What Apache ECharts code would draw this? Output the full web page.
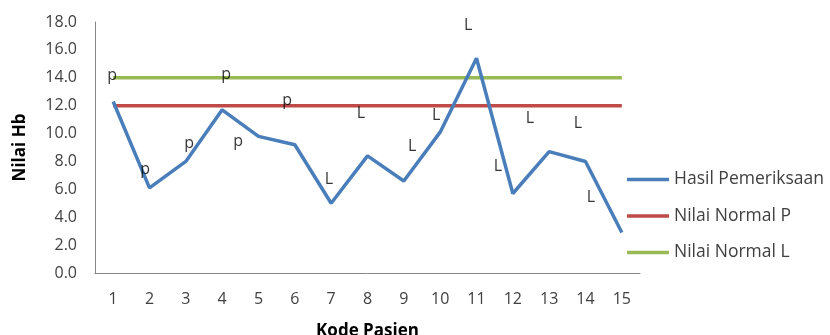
<!DOCTYPE html>
<html><head><meta charset="utf-8">
<script src="https://cdn.jsdelivr.net/npm/echarts@6/dist/echarts.min.js"></script>
<style>html,body{margin:0;padding:0;background:#fff}#c{width:830px;height:335px}</style>
</head><body><div id="c"></div>
<script>
var categories = ['1','2','3','4','5','6','7','8','9','10','11','12','13','14','15'];
var hasil = [12.3, 6.1, 8.0, 11.7, 9.8, 9.2, 5.0, 8.4, 6.6, 10.1, 15.4, 5.7, 8.7, 8.0, 2.9];
var normalP = [12,12,12,12,12,12,12,12,12,12,12,12,12,12,12];
var normalL = [14,14,14,14,14,14,14,14,14,14,14,14,14,14,14];
var yTicks = {min: 0, max: 18, interval: 2};
// annotation labels: text, position in category units, value
var annText = ['p','p','p','p','p','p','L','L','L','L','L','L','L','L','L'];
var annX = [0.97, 1.88, 3.09, 4.11, 4.44, 5.79, 6.94, 7.82, 9.23, 9.89, 10.77, 11.59, 12.47, 13.79, 14.15];
var annY = [14.2, 7.45, 9.3, 14.25, 9.4, 12.4, 6.72, 11.47, 9.09, 11.33, 17.73, 7.65, 11.11, 10.75, 5.42];

var font = 'Open Sans';
var annData = annX.map(function(x, i){ return [x, annY[i], annText[i]]; });
var chart = echarts.init(document.getElementById('c'), null, {renderer:'canvas'});
chart.setOption({
  animation: false,
  grid: {left: 95, right: 190, top: 22, bottom: 62, containLabel: false, outerBoundsMode: 'none'},
  legend: {
    data: ['Hasil Pemeriksaan','Nilai Normal P','Nilai Normal L'],
    orient: 'vertical', left: 627, top: 170,
    icon: 'rect', itemWidth: 42, itemHeight: 3.5, itemGap: 17.5,
    textStyle: {fontFamily: font, fontSize: 17.5, color: '#404040', lineHeight: 19},
    padding: 0
  },
  xAxis: [{
    type: 'category', data: categories, boundaryGap: true,
    axisLine: {lineStyle: {color: '#868686', width: 1}},
    axisTick: {show: false},
    axisLabel: {fontFamily: font, fontSize: 16, color: '#404040', margin: 18},
    name: 'Kode Pasien', nameLocation: 'middle', nameGap: 50,
    nameTextStyle: {fontFamily: font, fontSize: 17, fontWeight: 'bold', color: '#000'}
  },{
    type: 'value', min: 0.5, max: 15.5, show: false
  }],
  yAxis: {
    type: 'value', min: yTicks.min, max: yTicks.max, interval: yTicks.interval,
    axisLine: {show: true, lineStyle: {color: '#868686', width: 1}},
    axisTick: {show: false},
    splitLine: {show: false},
    axisLabel: {fontFamily: font, fontSize: 16, color: '#404040', margin: 18,
      formatter: function(v){ return v.toFixed(1); }},
    name: 'Nilai Hb', nameLocation: 'middle', nameGap: 66, nameRotate: 90,
    nameTextStyle: {fontFamily: font, fontSize: 17, fontWeight: 'bold', color: '#000'}
  },
  series: [
    {name: 'Hasil Pemeriksaan', type: 'line', data: hasil, symbol: 'none',
     lineStyle: {color: '#4A7EBB', width: 3.5}, itemStyle: {color: '#4A7EBB'}, z: 3},
    {name: 'Nilai Normal P', type: 'line', data: normalP, symbol: 'none',
     lineStyle: {color: '#BE4B48', width: 3.5}, itemStyle: {color: '#BE4B48'}, z: 2},
    {name: 'Nilai Normal L', type: 'line', data: normalL, symbol: 'none',
     lineStyle: {color: '#98B954', width: 3.5}, itemStyle: {color: '#98B954'}, z: 2},
    {name: 'ann', type: 'scatter', xAxisIndex: 1, data: annData, symbolSize: 1,
     itemStyle: {color: 'rgba(0,0,0,0)'}, z: 5,
     label: {show: true, position: 'inside', formatter: function(p){ return p.data[2]; },
       fontFamily: font, fontSize: 16, color: '#000'}}
  ]
});
</script></body></html>
